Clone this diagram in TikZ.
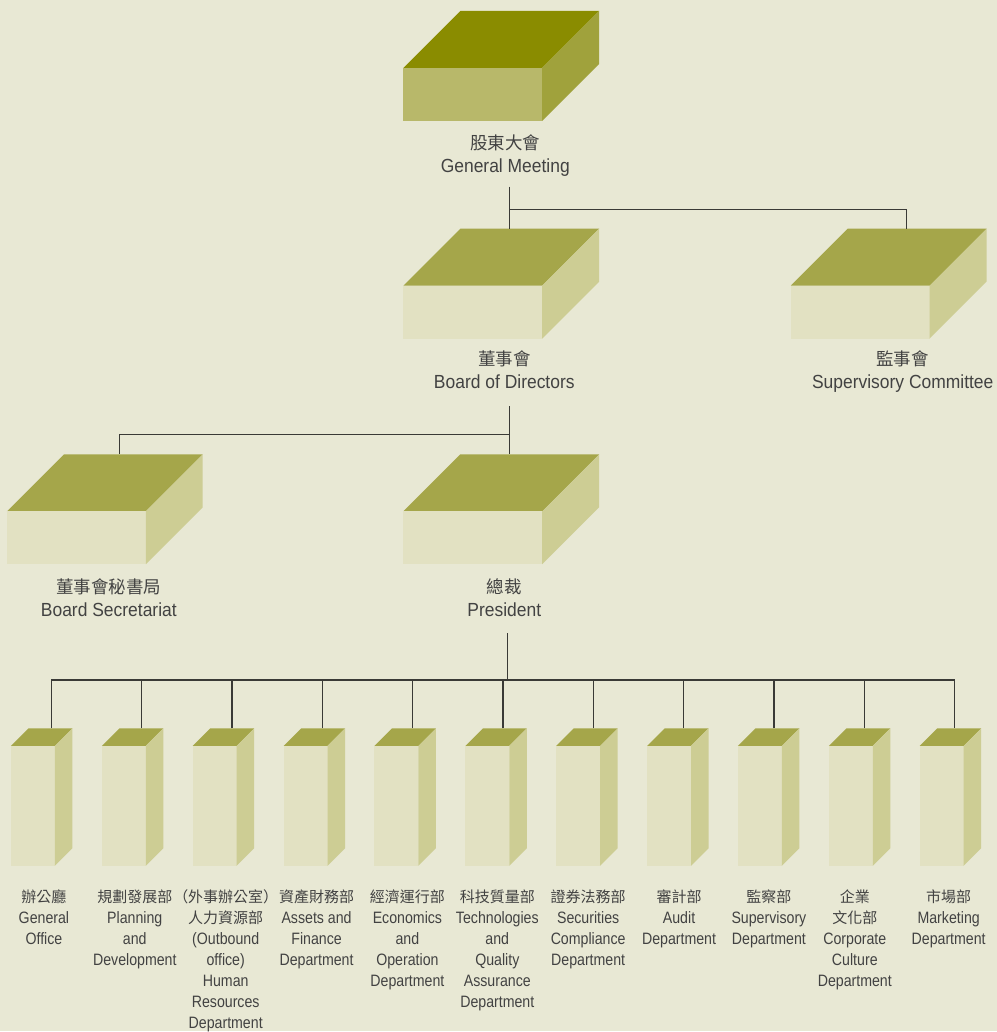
\documentclass[tikz,border=0pt]{standalone}
\usepackage{fontspec}
\setmainfont[FakeStretch=0.92]{Liberation Sans}
\newfontfamily\narrow[FakeStretch=0.86]{Liberation Sans}
\newfontfamily\cjk{Noto Sans CJK TC}
\usepackage{tikz}
\usetikzlibrary{positioning}

\definecolor{paper}{HTML}{E8E8D4}
\definecolor{gmtop}{HTML}{8A8C00}
\definecolor{gmfront}{HTML}{B8B86A}
\definecolor{gmside}{HTML}{A0A23C}
\definecolor{paletop}{HTML}{A5A64A}
\definecolor{palefront}{HTML}{E2E1C2}
\definecolor{paleside}{HTML}{CDCD94}
\definecolor{ink}{HTML}{424242}
\definecolor{wire}{HTML}{3A3A36}

% block: face set, front top-left x, y, width, height, depth
\newcommand{\Block}[6]{%
  \fill [#1Top] (#2,#3) -- ({#2+#6},{#3-#6}) -- ({#2+#4+#6},{#3-#6}) -- ({#2+#4},#3) -- cycle;
  \fill [#1Front] (#2,#3) rectangle ({#2+#4},{#3+#5});
  \fill [#1Side] ({#2+#4},#3) -- ({#2+#4+#6},{#3-#6}) -- ({#2+#4+#6},{#3+#5-#6}) -- ({#2+#4},{#3+#5}) -- cycle;
}
\newcommand{\zh}[1]{{\cjk\fontsize{17.5}{23}\selectfont #1}}
\newcommand{\zhs}[1]{{\cjk\fontsize{15}{21}\selectfont #1}}

\begin{document}
\begin{tikzpicture}[x=1pt,y=-1pt]
			\tikzstyle{Paper}		= [fill=paper]
			\tikzstyle{DarkTop}		= [fill=gmtop]
			\tikzstyle{DarkFront}	= [fill=gmfront]
			\tikzstyle{DarkSide}	= [fill=gmside]
			\tikzstyle{PaleTop}		= [fill=paletop]
			\tikzstyle{PaleFront}	= [fill=palefront]
			\tikzstyle{PaleSide}	= [fill=paleside]
			\tikzstyle{Label}		= [align=center, inner sep=0pt, anchor=north, text=ink, font=\fontsize{19}{23}\selectfont]
			\tikzstyle{Dept}		= [align=center, inner sep=0pt, anchor=north, text=ink, font=\narrow\fontsize{16.5}{21}\selectfont]
			\tikzstyle{Link}		= [line width=1.3pt, draw=wire]

			\fill [Paper] (0,0) rectangle (998,1032);

			% upper blocks
			\Block{Dark}{404}{68}{139}{53}{57}
			\Block{Pale}{404}{286}{139}{53}{57}
			\Block{Pale}{792}{286}{139}{53}{57}
			\Block{Pale}{7}{512}{139}{53}{57}
			\Block{Pale}{404}{512}{139}{53}{57}

			% department blocks
			\foreach \x in {11,102,193,284,375,466,557,648,739,830,921}
				\Block{Pale}{\x}{747}{44}{120}{17.5};

			\node (gm) at (506,135) [Label] {\zh{股東大會}\\General Meeting};
			\node (bod) at (505,351) [Label] {\zh{董事會}\\Board of Directors};
			\node (sc) at (904,351) [Label] {\zh{監事會}\\Supervisory Committee};
			\node (sec) at (109,579) [Label] {\zh{董事會秘書局}\\Board Secretariat};
			\node (pres) at (505,579) [Label] {\zh{總裁}\\President};

			\node (d1) at (44,891) [Dept] {\zhs{辦公廳}\\General\\Office};
			\node (d2) at (135,891) [Dept] {\zhs{規劃發展部}\\Planning\\and\\Development};
			\node (d3) at (226,891) [Dept] {\zhs{（外事辦公室）}\\\zhs{人力資源部}\\(Outbound\\office)\\Human\\Resources\\Department};
			\node (d4) at (317,891) [Dept] {\zhs{資產財務部}\\Assets and\\Finance\\Department};
			\node (d5) at (408,891) [Dept] {\zhs{經濟運行部}\\Economics\\and\\Operation\\Department};
			\node (d6) at (498,891) [Dept] {\zhs{科技質量部}\\Technologies\\and\\Quality\\Assurance\\Department};
			\node (d7) at (589,891) [Dept] {\zhs{證券法務部}\\Securities\\Compliance\\Department};
			\node (d8) at (680,891) [Dept] {\zhs{審計部}\\Audit\\Department};
			\node (d9) at (770,891) [Dept] {\zhs{監察部}\\Supervisory\\Department};
			\node (d10) at (856,891) [Dept] {\zhs{企業}\\\zhs{文化部}\\Corporate\\Culture\\Department};
			\node (d11) at (950,891) [Dept] {\zhs{市場部}\\Marketing\\Department};

			% connector ends
			\coordinate (gm-out) at (510,187);
			\coordinate (gm-fork) at (510,210);
			\coordinate (bod-in) at (510,229);
			\coordinate (sc-in) at (908,229);
			\coordinate (bod-out) at (510,407);
			\coordinate (bod-fork) at (510,435);
			\coordinate (pres-in) at (510,455);
			\coordinate (sec-in) at (119.5,455);
			\coordinate (pres-out) at (508,634);
			\coordinate (pres-fork) at (508,681);
			\foreach \i/\x in {1/51.5,2/142,3/232.4,4/322.9,5/413.3,6/503.8,7/594.2,8/684.7,9/775.1,10/865.6,11/956}
				\coordinate (d\i-in) at (\x,729.5);

			\draw [Link] (gm-out) to (bod-in);
			\draw [Link] (gm-fork) -| (sc-in);
			\draw [Link] (bod-out) to (pres-in);
			\draw [Link] (bod-fork) -| (sec-in);
			\draw [Link] (pres-out) to (pres-fork);
			\draw [Link] (d1-in) |- (pres-fork) -| (d11-in);
			\foreach \i in {2,...,10}
				\draw [Link] (d\i-in) -- (d\i-in |- pres-fork);
\end{tikzpicture}
\end{document}
